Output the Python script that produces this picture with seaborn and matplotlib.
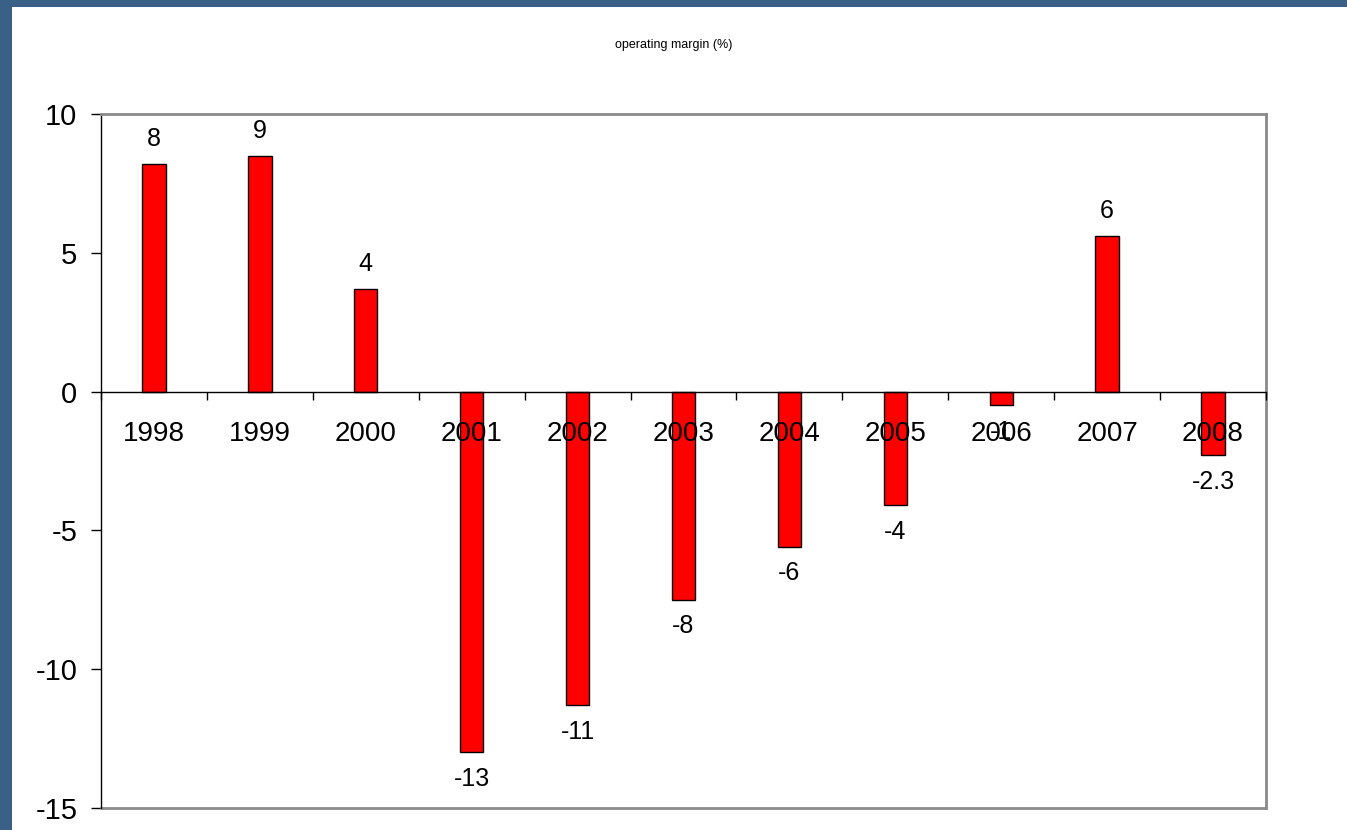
import matplotlib
matplotlib.use("Agg")
import matplotlib.pyplot as plt
import seaborn as sns
import pandas as pd

# Operating margin by year (%)
years = ["1998", "1999", "2000", "2001", "2002", "2003", "2004", "2005", "2006", "2007", "2008"]
margins = [8.2, 8.5, 3.7, -13.0, -11.3, -7.5, -5.6, -4.1, -0.5, 5.6, -2.3]
value_labels = ["8", "9", "4", "-13", "-11", "-8", "-6", "-4", "-1", "6", "-2.3"]
y_ticks = [-15, -10, -5, 0, 5, 10]

sns.set_theme(style="white")
plt.rcParams["font.family"] = ["Liberation Sans", "DejaVu Sans"]
plt.rcParams["text.color"] = "black"

df = pd.DataFrame({"year": years, "margin": margins})

fig = plt.figure(figsize=(13.47, 8.30), dpi=100)
fig.patch.set_facecolor("white")

# slide-style blue frame along the top and left edges
frame_blue = "#3b6087"
fig.patches.append(plt.Rectangle((0, 1 - 7 / 830), 1, 7 / 830, transform=fig.transFigure,
                                 facecolor=frame_blue, edgecolor="none", zorder=0))
fig.patches.append(plt.Rectangle((0, 0), 12 / 1347, 1, transform=fig.transFigure,
                                 facecolor=frame_blue, edgecolor="none", zorder=0))

ax = fig.add_axes([101 / 1347, 1 - 808 / 830, (1266 - 101) / 1347, (808 - 114) / 830])

sns.barplot(data=df, x="year", y="margin", color="#ff0000", edgecolor="black",
            linewidth=1.0, width=0.22, saturation=1, ax=ax, zorder=3)

ax.set_ylim(-15, 10)
ax.set_xlim(-0.5, len(years) - 0.5)
ax.set_yticks(y_ticks)
ax.set_yticklabels([str(t) for t in y_ticks], fontsize=21)
ax.set_xlabel("")
ax.set_ylabel("")

# category axis sits on the zero line
ax.spines["bottom"].set_position(("data", 0))
ax.spines["bottom"].set_color("black")
ax.spines["bottom"].set_linewidth(1.0)
ax.spines["bottom"].set_zorder(4)
ax.spines["left"].set_color("black")
ax.spines["left"].set_linewidth(1.0)
for side in ("top", "right"):
    ax.spines[side].set_color("#8a8a8a")
    ax.spines[side].set_linewidth(2.0)
ax.axhline(-15, color="#8a8a8a", lw=2.0, clip_on=False, zorder=2)

ax.set_xticks(range(len(years)))
ax.set_xticklabels(years, fontsize=20)
ax.set_xticks([i - 0.5 for i in range(len(years) + 1)], minor=True)
ax.tick_params(axis="x", which="major", bottom=True, length=0, pad=21,
               color="black", labelcolor="black")
ax.tick_params(axis="x", which="minor", bottom=True, length=6, width=1,
               direction="out", color="black")
ax.tick_params(axis="y", which="major", left=True, length=7, width=1, direction="out",
               pad=10, color="black", labelcolor="black")
# year labels are drawn over the bars
ax.xaxis.set_zorder(5)

# value labels above positive bars, below negative ones
for i, (v, txt) in enumerate(zip(margins, value_labels)):
    off = 18 if v >= 0 else -19
    ax.annotate(txt, (i, v), xytext=(0, off), textcoords="offset points",
                ha="center", va="center", fontsize=18, color="black", zorder=6)

fig.text(0.5, 1 - 45 / 830, "operating margin (%)", ha="center", va="center",
         fontsize=9, color="black")

fig.savefig("out.png", dpi=100, facecolor=fig.get_facecolor())
